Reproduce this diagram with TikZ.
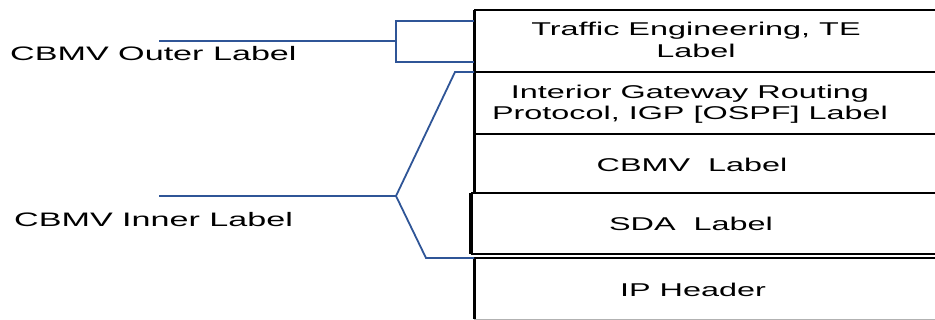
\documentclass[tikz,border=0pt]{standalone}
\usepackage{fontspec}
\newfontfamily\lblfont[FakeStretch=1.75]{Liberation Sans}
\definecolor{brk}{RGB}{47,85,151}
\begin{document}
\begin{tikzpicture}[x=1pt,y=-1pt,
  layerbox/.style={rectangle,inner sep=0pt,anchor=north west},
  edge/.style={line width=2pt,black},
  leftedge/.style={line width=3pt,black},
  boxtext/.style={inner sep=0pt,anchor=base,font=\lblfont\fontsize{18.5}{21.5}\selectfont,align=center},
  sidetext/.style={inner sep=0pt,anchor=base west,font=\lblfont\fontsize{19.5}{22}\selectfont},
  bracket/.style={brk,line width=1.8pt}]
\clip (0,0) rectangle (935,320);
\fill[white] (0,0) rectangle (935,320);
% layer boxes
\node[layerbox,minimum width=480pt,minimum height=62pt] (te)  at (474,10) {};
\node[layerbox,minimum width=480pt,minimum height=62pt] (igp) at (474,72) {};
\node[layerbox,minimum width=480pt,minimum height=60pt] (cbmv) at (474,134) {};
\node[layerbox,minimum width=483pt,minimum height=61pt] (sda) at (471,193) {};
\node[layerbox,minimum width=480pt,minimum height=61pt] (ip)  at (474,258) {};
% borders
\draw[edge] (te.north west) -- (te.north east);
\draw[edge] (te.south west) -- (te.south east);
\draw[edge] (igp.south west) -- (igp.south east);
\draw[edge] (sda.north west) -- (sda.north east);
\draw[edge] (sda.south west) -- (sda.south east);
\draw[edge] (ip.north west) -- (ip.north east);
\draw[gray!60,line width=1pt] (ip.south west) -- (ip.south east);
\draw[leftedge] (te.north west) -- (cbmv.south west);
\draw[line width=3.6pt] (sda.north west) -- (sda.south west);
\draw[leftedge] (ip.north west) -- (ip.south west);
% texts
\node[boxtext] (tet) at (696,57.3) {Traffic Engineering, TE\\Label};
\node[boxtext] (igpt) at (690,119.7) {Interior Gateway Routing\\Protocol, IGP [OSPF] Label};
\node[boxtext] (cbmvt) at (692,171.7) {CBMV\ \ Label};
\node[boxtext] (sdat) at (691,230.7) {SDA\ \ Label};
\node[boxtext] (ipt) at (693,296.7) {IP Header};
\node[sidetext] (outer) at (10,60.7) {CBMV Outer Label};
\node[sidetext] (inner) at (14,227) {CBMV Inner Label};
% bracket points
\coordinate (ol) at (159,41.3);
\coordinate (oj) at (396,41.3);
\coordinate (ot) at (474,20.7);
\coordinate (ob) at (474,61.7);
\coordinate (il) at (159,196);
\coordinate (ij) at (396,196);
\coordinate (ik1) at (455,72);
\coordinate (ik2) at (426,258);
% brackets
\draw[bracket] (ol) -- (oj);
\draw[bracket] (ot) -- (ot -| oj) -- (ob -| oj) -- (ob);
\draw[bracket] (il) -- (ij);
\draw[bracket] (igp.north west) -- (ik1) -- (ij) -- (ik2) -- (ip.north west);
\end{tikzpicture}
\end{document}
